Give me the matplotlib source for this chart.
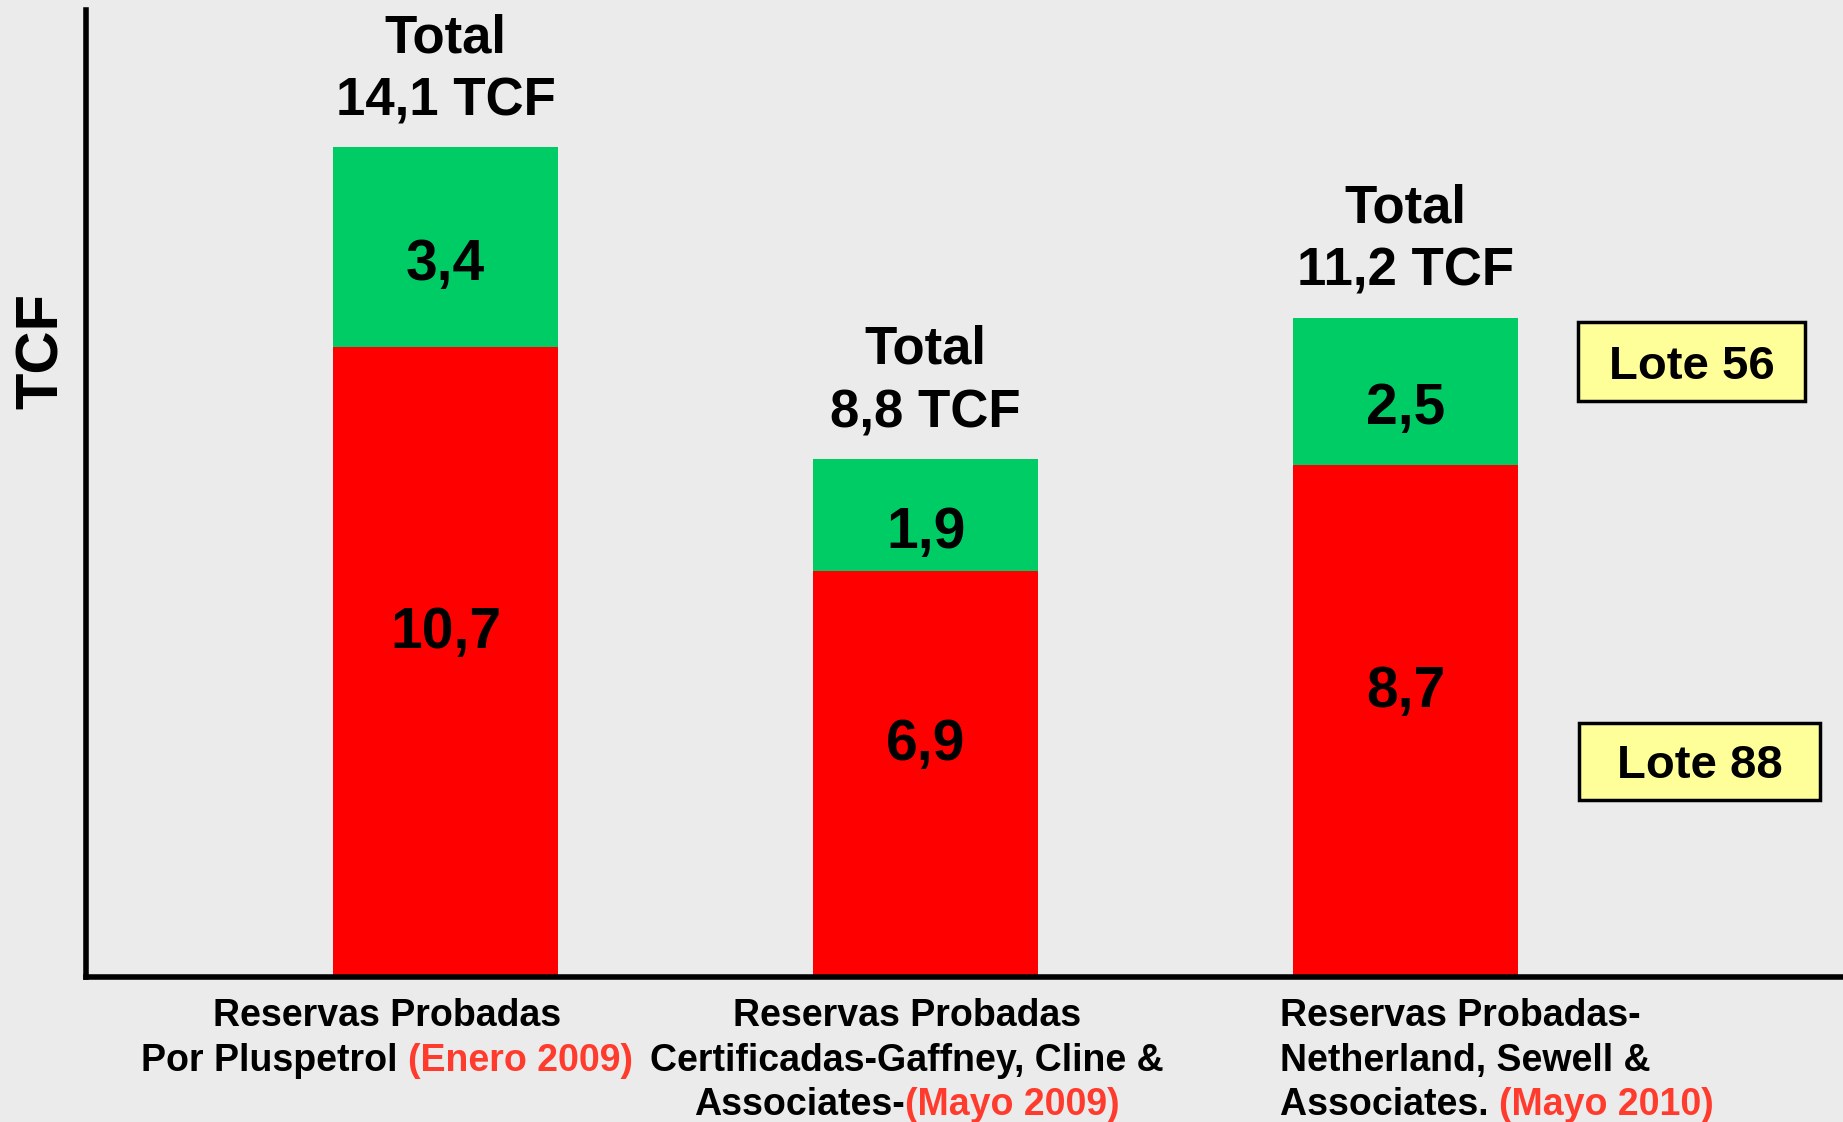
import matplotlib.pyplot as plt
from matplotlib.patches import Rectangle

# Reservas probadas de gas (TCF) por certificadora
lote88 = [10.7, 6.9, 8.7]
lote56 = [3.4, 1.9, 2.5]
label_lines = [
    [[("Reservas Probadas", "black")],
     [("Por Pluspetrol ", "black"), ("(Enero 2009)", "#ff3b2e")]],
    [[("Reservas Probadas", "black")],
     [("Certificadas-Gaffney, Cline &", "black")],
     [("Associates-", "black"), ("(Mayo 2009)", "#ff3b2e")]],
    [[("Reservas Probadas-", "black")],
     [("Netherland, Sewell &", "black")],
     [("Associates. ", "black"), ("(Mayo 2010)", "#ff3b2e")]],
]
legend_names = ["Lote 56", "Lote 88"]

FONT = "Liberation Sans"
W, H = 1843, 1122
RED = "#ff0000"
GREEN = "#00cc66"
LABEL_SIZE = 27


def fmt(v):
    return ("%.1f" % v).replace(".", ",")


fig = plt.figure(figsize=(W / 100, H / 100), dpi=100, facecolor="#ebebeb")
ax = fig.add_axes([86 / W, 1 - 977 / H, 1 - 86 / W, (977 - 10) / H])
ax.set_facecolor("none")

x = list(range(len(lote88)))
ax.bar(x, lote88, width=0.469, color=RED, zorder=2)
ax.bar(x, lote56, width=0.469, bottom=lote88, color=GREEN, zorder=2)

for i in x:
    r = lote88[i]
    g = lote56[i]
    tot = r + g
    ax.annotate(fmt(r), xy=(i, r / 2), xytext=(0, 21), textcoords="offset points",
                ha="center", va="center", fontsize=41, fontweight="bold", family=FONT)
    ax.annotate(fmt(g), xy=(i, r + g / 2), xytext=(0, -13), textcoords="offset points",
                ha="center", va="center", fontsize=41, fontweight="bold", family=FONT)
    ax.annotate("Total\n" + fmt(tot) + " TCF", xy=(i, tot), xytext=(0, 15),
                textcoords="offset points", ha="center", va="bottom",
                fontsize=38, fontweight="bold", family=FONT, linespacing=1.34)

ax.set_xlim(-0.749, 2.911)
ax.set_ylim(0, 16.43)
ax.set_xticks([])
ax.set_yticks([])
for s in ["top", "right"]:
    ax.spines[s].set_visible(False)
for s in ["left", "bottom"]:
    ax.spines[s].set_linewidth(4)
    ax.spines[s].set_color("black")

fig.text(42 / W, 1 - 351 / H, "TCF", rotation=90, ha="center", va="center",
         fontsize=43, fontweight="bold", family=FONT)

# cuadros de leyenda
boxes = [(1578, 322, 1805, 401), (1579, 723, 1820, 800)]
for name, (x0, y0, x1, y1) in zip(legend_names, boxes):
    fig.add_artist(Rectangle((x0 / W, 1 - y1 / H), (x1 - x0) / W, (y1 - y0) / H,
                             transform=fig.transFigure, facecolor="#ffff99",
                             edgecolor="black", linewidth=2.5))
    fig.text((x0 + x1) / 2 / W, 1 - (y0 + y1) / 2 / H, name, ha="center",
             va="center_baseline", fontsize=34, fontweight="bold", family=FONT)

# etiquetas de categoria con la fecha en rojo
renderer = fig.canvas.get_renderer()
label_x = [-0.122, 0.961, 1.739]
label_ha = ["center", "center", "left"]
baselines = [1026, 1071, 1115]


def text_width(s):
    t = fig.text(0, 0, s, fontsize=LABEL_SIZE, fontweight="bold", family=FONT)
    w = t.get_window_extent(renderer).width
    t.remove()
    return w


for i, lines in enumerate(label_lines):
    px = ax.transData.transform((label_x[i], 0))[0]
    for j, parts in enumerate(lines):
        full = "".join(p[0] for p in parts)
        wfull = text_width(full)
        if label_ha[i] == "center":
            x0 = px - wfull / 2
        else:
            x0 = px
        yy = 1 - baselines[j] / H
        fig.text(x0 / W, yy, parts[0][0], color=parts[0][1], ha="left", va="baseline",
                 fontsize=LABEL_SIZE, fontweight="bold", family=FONT)
        if len(parts) > 1:
            fig.text((x0 + wfull) / W, yy, parts[1][0], color=parts[1][1], ha="right",
                     va="baseline", fontsize=LABEL_SIZE, fontweight="bold", family=FONT)

fig.savefig("out.png", dpi=100, facecolor=fig.get_facecolor())
